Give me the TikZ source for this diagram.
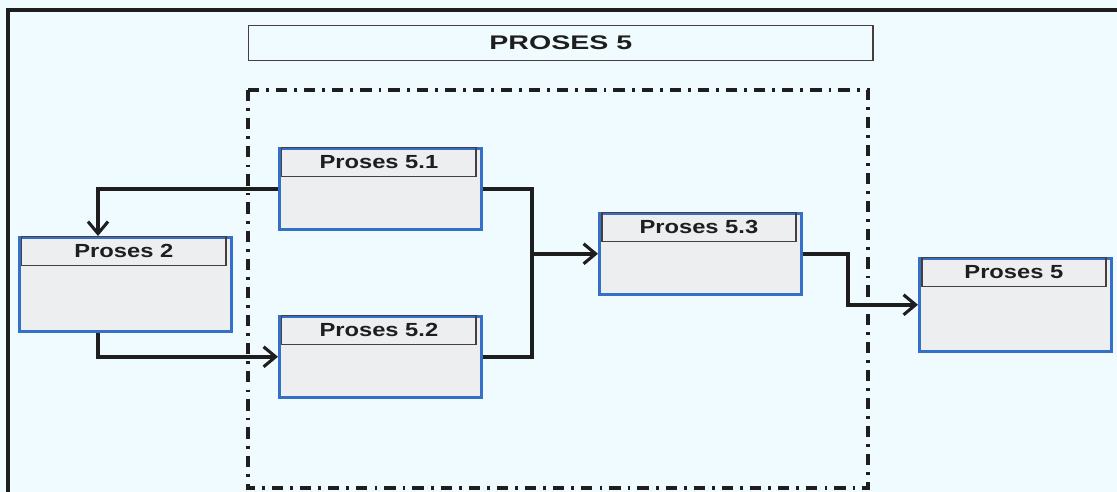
\documentclass[tikz,border=0pt]{standalone}
\usepackage{fontspec}
\setmainfont{Liberation Sans}
\newfontfamily\boxfont[FakeStretch=1.25]{Liberation Sans}
\newfontfamily\titlefont[FakeStretch=1.45]{Liberation Sans}
\usetikzlibrary{arrows.meta}

\definecolor{bgcyan}{RGB}{240,251,255}
\definecolor{boxgrey}{RGB}{236,238,240}
\definecolor{boxblue}{RGB}{52,112,200}
\definecolor{headgrey}{RGB}{72,62,62}
\definecolor{inkgrey}{RGB}{30,30,30}

\begin{document}
\begin{tikzpicture}[x=0.025cm, y=-0.025cm,
		every path/.style={>={Straight Barb[length=3mm,width=5mm,line width=2.2pt]}},
		proc/.style={rectangle, draw=boxblue, fill=boxgrey, line width=1.8pt, anchor=north west, inner sep=0pt},
		head/.style={rectangle, draw=headgrey, line width=0.9pt, anchor=north, inner sep=0pt,
			minimum height=0.725cm, text=inkgrey, font=\boxfont\bfseries\fontsize{13.5}{15}\selectfont},
		link/.style={->, draw=inkgrey, line width=2.6pt},
		joint/.style={draw=inkgrey, line width=2.6pt},
		dashdot/.style={draw=inkgrey, line width=2.4pt, dash pattern=on 8pt off 5pt on 2pt off 5pt}]

	% page and frame
	\useasboundingbox (0,0) rectangle (1117,492);
	\fill[bgcyan] (0,0) rectangle (1117,492);
	\draw[inkgrey, line width=2.2pt] (8,492) -- (8,10) -- (1117,10);

	% title
	\node[rectangle, draw=headgrey, line width=1pt, anchor=north west, inner sep=0pt,
		minimum width=15.6cm, minimum height=0.875cm, text=inkgrey,
		font=\titlefont\bfseries\fontsize{14}{16}\selectfont] (ttl) at (248,25) {PROSES 5};

	% sub-process boundary
	\draw[dashdot] (248,90) rectangle (868,488);

	% process boxes
	\node[proc, minimum width=5.3cm, minimum height=2.35cm] (p2) at (18,236) {};
	\node[head, minimum width=5.1cm] (p2h) at ([xshift=-1pt] p2.north) {Proses 2};

	\node[proc, minimum width=5.05cm, minimum height=2.025cm] (p51) at (278,147) {};
	\node[head, minimum width=4.85cm] (p51h) at ([xshift=-1pt] p51.north) {Proses 5.1};

	\node[proc, minimum width=5.05cm, minimum height=2.025cm] (p52) at (278,315) {};
	\node[head, minimum width=4.85cm] (p52h) at ([xshift=-1pt] p52.north) {Proses 5.2};

	\node[proc, minimum width=5.05cm, minimum height=2.025cm] (p53) at (598,212) {};
	\node[head, minimum width=4.85cm] (p53h) at ([xshift=-1pt] p53.north) {Proses 5.3};

	\node[proc, minimum width=4.8cm, minimum height=2.325cm] (p5) at (918,257) {};
	\node[head, minimum width=4.6cm] (p5h) at ([xshift=-1pt] p5.north) {Proses 5};

	% connectors
	\coordinate (k) at (98,0);
	\coordinate (j) at (532,0);
	\coordinate (m) at (848,0);

	\draw[link] (p51.west) -| (k |- p2.north);
	\draw[link] (k |- p2.south) |- (p52.west);
	\draw[joint] (p51.east) -| (j |- p52.east) -- (p52.east);
	\draw[link] (j |- p53.west) -- (p53.west);
	\draw[link] (p53.east) -| (m |- p5.west) -- (p5.west);
\end{tikzpicture}
\end{document}
